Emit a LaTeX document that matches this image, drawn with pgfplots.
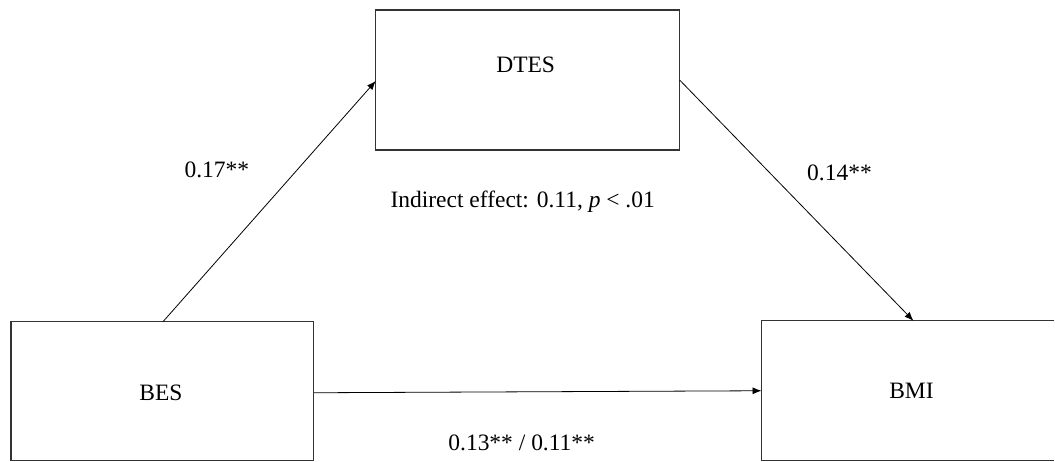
\documentclass[border=0pt]{standalone}
\usepackage{fontspec}
\setmainfont{Liberation Serif}
\usepackage{pgfplots}
\pgfplotsset{compat=1.18}
\usetikzlibrary{arrows.meta}
\newcommand{\lbl}{\fontsize{23.5}{28}\selectfont}
\begin{document}
\begin{tikzpicture}
\begin{axis}[
  width=1055pt, height=462pt, scale only axis,
  xmin=0, xmax=1055, ymin=0, ymax=462,
  y dir=reverse,
  hide axis, clip=false,
]
% invisible frame to keep full extent
\addplot[draw=none, mark=none] coordinates {(0,0) (1055,462)};
% boxes
\addplot[draw=black!80, line width=1.3pt, mark=none] coordinates {(376,10) (680,10) (680,150) (376,150)} -- cycle;
\addplot[draw=black!80, line width=1.3pt, mark=none] coordinates {(11,322) (314,322) (314,461) (11,461)} -- cycle;
\addplot[draw=black!80, line width=1.3pt, mark=none] coordinates {(1055,321) (762,321) (762,461) (1055,461)};
% arrows
\addplot[draw=black, line width=0.8pt, mark=none, -{Latex[length=9pt,width=7pt]}] coordinates {(163,322) (376,81)};
\addplot[draw=black, line width=0.8pt, mark=none, -{Latex[length=9pt,width=7pt]}] coordinates {(680,80) (914,321)};
\addplot[draw=black, line width=0.8pt, mark=none, -{Latex[length=9pt,width=7pt]}] coordinates {(314,393) (762,391)};
% labels
\node[font=\lbl] at (axis cs:526,65) {DTES};
\node[font=\lbl] at (axis cs:161,393) {BES};
\node[font=\lbl] at (axis cs:912,391) {BMI};
\node[font=\lbl] at (axis cs:217,170) {0.17**};
\node[font=\lbl] at (axis cs:840,173) {0.14**};
\node[font=\lbl] at (axis cs:523,202) {Indirect effect: 0.11, \textit{p} < .01};
\node[font=\lbl] at (axis cs:522,443) {0.13** / 0.11**};
\end{axis}
\end{tikzpicture}
\end{document}
